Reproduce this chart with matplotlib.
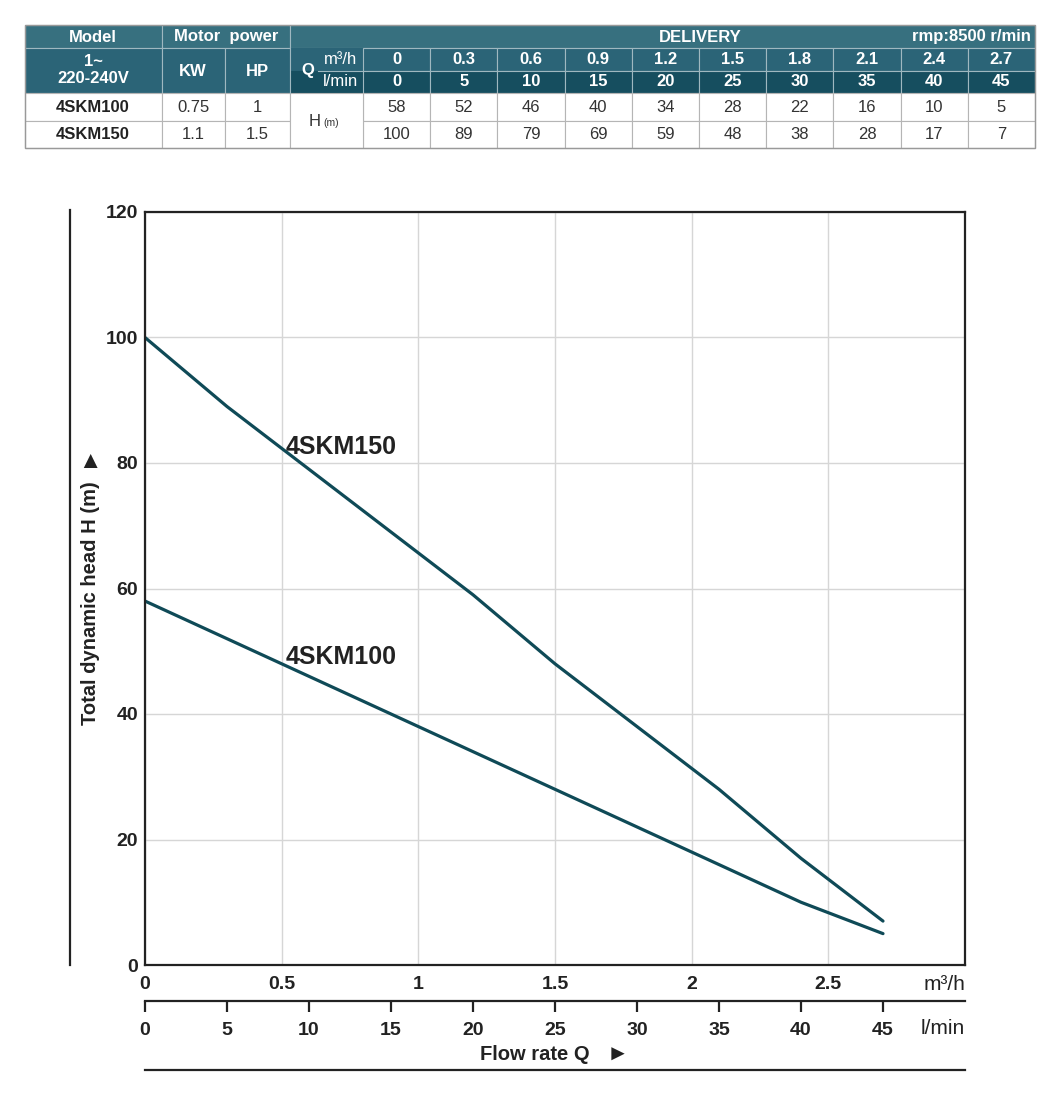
import numpy as np
import matplotlib
matplotlib.use('Agg')
from matplotlib import pyplot as plt
from matplotlib.patches import Rectangle

plt.rcParams['font.family'] = ['Liberation Sans', 'DejaVu Sans']

# data
q_m3h = [0, 0.3, 0.6, 0.9, 1.2, 1.5, 1.8, 2.1, 2.4, 2.7]
q_lmin = [0, 5, 10, 15, 20, 25, 30, 35, 40, 45]
models = ['4SKM100', '4SKM150']
kw = ['0.75', '1.1']
hp = ['1', '1.5']
head_100 = [58, 52, 46, 40, 34, 28, 22, 16, 10, 5]
head_150 = [100, 89, 79, 69, 59, 48, 38, 28, 17, 7]
heads = [head_100, head_150]

W, H = 1060, 1106
fig = plt.figure(figsize=(W / 100, H / 100), dpi=100)

# ---- table (pixel coords) ----
axt = fig.add_axes([0, 0, 1, 1])
axt.set_xlim(0, W)
axt.set_ylim(H, 0)
axt.axis('off')

c_top = '#37707f'
c_mid = '#2b6477'
c_dark = '#164e5f'
c_line = '#9fb8c0'
c_grid = '#b5b5b5'

def cell(x0, x1, y0, y1, fc, ec):
    axt.add_patch(Rectangle((x0, y0), x1 - x0, y1 - y0, facecolor=fc,
                            edgecolor=ec, linewidth=0.8))

def txt(x, y, s, color='white', bold=True, size=12, ha='center'):
    axt.text(x, y, s, color=color, fontsize=size, ha=ha, va='center',
             fontweight='bold' if bold else 'normal')

ys = [25, 48, 71, 93, 121, 148]
cw = (1035 - 363) / len(q_m3h)
xd = [363 + i * cw for i in range(len(q_m3h) + 1)]

# header row 1
cell(25, 162, ys[0], ys[1], c_top, c_line)
cell(162, 290, ys[0], ys[1], c_top, c_line)
cell(290, 1035, ys[0], ys[1], c_top, c_line)
txt(93, 37, 'Model')
txt(226, 36, 'Motor  power')
txt(700, 37, 'DELIVERY')
txt(1031, 37, 'rmp:8500 r/min', ha='right')

# header rows 2-3
cell(25, 162, ys[1], ys[3], c_mid, c_line)
txt(93, 70, '1~\n220-240V')
cell(162, 225, ys[1], ys[3], c_mid, c_line)
txt(193, 71, 'KW')
cell(225, 290, ys[1], ys[3], c_mid, c_line)
txt(257, 71, 'HP')
cell(290, 363, ys[1], ys[2], c_mid, c_mid)
cell(290, 363, ys[2], ys[3], c_dark, c_dark)
axt.plot([318, 363], [ys[2], ys[2]], color=c_line, lw=0.8)
axt.plot([290, 290], [ys[1], ys[3]], color=c_line, lw=0.8)
txt(308, 71, 'Q')
txt(341, 60, 'm³/h', bold=False)
txt(341, 82, 'l/min', bold=False)
for i in range(len(q_m3h)):
    cell(xd[i], xd[i + 1], ys[1], ys[2], c_mid, c_line)
    cell(xd[i], xd[i + 1], ys[2], ys[3], c_dark, c_line)
    txt((xd[i] + xd[i + 1]) / 2, 60, str(q_m3h[i]))
    txt((xd[i] + xd[i + 1]) / 2, 82, str(q_lmin[i]))

# data rows
for r in range(2):
    y0, y1 = ys[3 + r], ys[4 + r]
    yc = (y0 + y1) / 2
    cell(25, 162, y0, y1, 'white', c_grid)
    cell(162, 225, y0, y1, 'white', c_grid)
    cell(225, 290, y0, y1, 'white', c_grid)
    txt(93, yc, models[r], color='#222222')
    txt(193, yc, kw[r], color='#333333', bold=False)
    txt(257, yc, hp[r], color='#333333', bold=False)
    for i in range(len(q_m3h)):
        cell(xd[i], xd[i + 1], y0, y1, 'white', c_grid)
        txt((xd[i] + xd[i + 1]) / 2, yc, str(heads[r][i]), color='#333333', bold=False)
cell(290, 363, ys[3], ys[5], 'white', c_grid)
txt(315, 121, 'H', color='#333333', bold=False, size=12)
txt(323, 123, '(m)', color='#333333', bold=False, size=7.5, ha='left')
axt.add_patch(Rectangle((25, 25), 1010, 123, facecolor='none', edgecolor='#999999', lw=1))

# ---- main chart ----
L, R, T, B = 145, 965, 212, 965
ax = fig.add_axes([L / W, 1 - B / H, (R - L) / W, (B - T) / H])
line_c = '#0f4a57'
ax.plot(q_m3h, head_150, color=line_c, lw=2.3, solid_capstyle='round')
ax.plot(q_m3h, head_100, color=line_c, lw=2.3, solid_capstyle='round')
ax.text(0.515, 82.5, '4SKM150', fontsize=18, fontweight='bold', color='#222222', va='center')
ax.text(0.515, 49.1, '4SKM100', fontsize=18, fontweight='bold', color='#222222', va='center')

ax.set_xlim(0, 3)
ax.set_ylim(0, 120)
ax.set_xticks(np.arange(0, 3, 0.5))
ax.set_xticklabels(['0', '0.5', '1', '1.5', '2', '2.5'])
ax.set_yticks(np.arange(0, 121, 20))
ax.grid(True, color='#d6d6d6', lw=1)
ax.set_axisbelow(True)
for s in ax.spines.values():
    s.set_color('#222222')
    s.set_linewidth(1.6)
ax.tick_params(length=0, labelsize=14, pad=5, colors='#222222')
ax.tick_params(axis='x', pad=8)
for lab in ax.get_xticklabels() + ax.get_yticklabels():
    lab.set_fontweight('bold')

# second flow axis (l/min)
ax2 = fig.add_axes([L / W, 1 - 1001 / H, (R - L) / W, 0.0001])
ax2.set_xlim(0, 50)
ax2.set_facecolor('none')
for k in ['top', 'left', 'right']:
    ax2.spines[k].set_visible(False)
ax2.spines['bottom'].set_color('#222222')
ax2.spines['bottom'].set_linewidth(1.6)
ax2.set_yticks([])
ax2.set_xticks(q_lmin)
ax2.tick_params(axis='x', direction='out', length=8, width=1.6, colors='#222222',
                labelsize=14, pad=7)
for lab in ax2.get_xticklabels():
    lab.set_fontweight('bold')

fig.text(965 / W, 1 - 985 / H, 'm³/h', fontsize=15, ha='right', va='center', color='#222222')
fig.text(965 / W, 1 - 1028 / H, 'l/min', fontsize=15, ha='right', va='center', color='#222222')
fig.text(590 / W, 1 - 1055 / H, 'Flow rate Q', fontsize=14.5, fontweight='bold',
         ha='right', va='center', color='#222222')
fig.text(607 / W, 1 - 1055 / H, '►', fontsize=16, ha='left', va='center', color='#222222')
fig.text(90 / W, 1 - 603 / H, 'Total dynamic head H (m)', fontsize=14.5, fontweight='bold',
         rotation=90, ha='center', va='center', color='#222222')
fig.text(90 / W, 1 - 462 / H, '▲', fontsize=17, rotation=0, ha='center', va='center',
         color='#222222')

axt.plot([145, 965], [1070, 1070], color='#222222', lw=1.6)
axt.plot([70, 70], [210, 965], color='#222222', lw=1.6)

fig.savefig('out.png', dpi=100)
